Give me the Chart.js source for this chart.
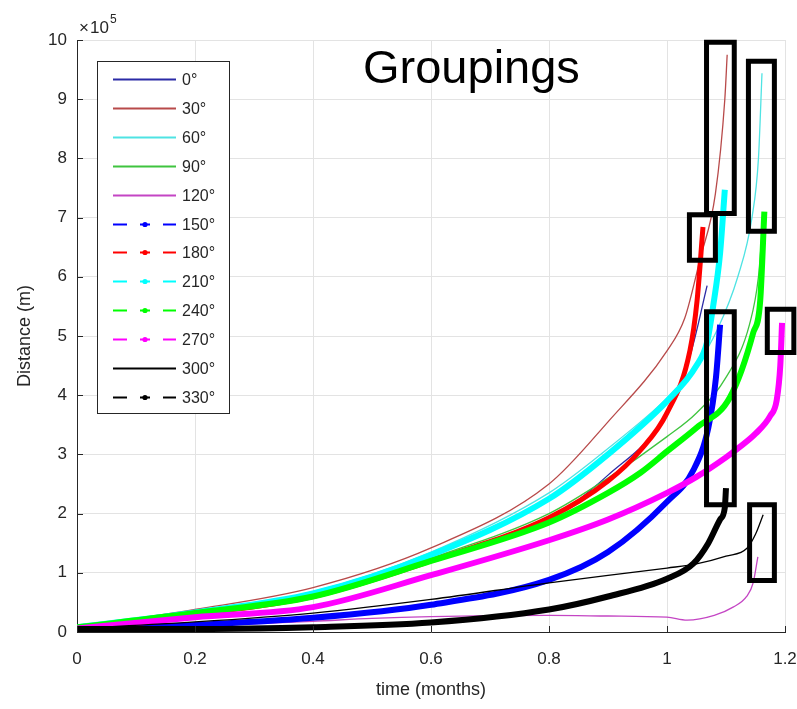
<!DOCTYPE html>
<html>
<head>
<meta charset="utf-8">
<title>Groupings</title>
<script src="https://cdn.jsdelivr.net/npm/chart.js@4.4.1/dist/chart.umd.min.js"></script>
<style>
  html, body { margin: 0; padding: 0; background: #fff; }
  #wrap { width: 797px; height: 709px; }
</style>
</head>
<body>
<div id="wrap"><canvas id="myChart" width="797" height="709"></canvas></div>
<script>
// Data (distance in units of 10^5 m, time in months)
const angleLabels = ["0°", "30°", "60°", "90°", "120°", "150°", "180°", "210°", "240°", "270°", "300°", "330°"];

const t0 = [0, 0.2, 0.4, 0.6, 0.8, 0.9, 1.0, 1.04, 1.068];
const d0 = [0.08, 0.3, 0.6, 1.2, 1.9, 2.65, 3.7, 4.7, 5.85];

const t30 = [0, 0.2, 0.4, 0.6, 0.8, 0.9, 1.0, 1.03, 1.056, 1.082, 1.098, 1.102];
const d30 = [0.08, 0.38, 0.75, 1.42, 2.5, 3.55, 4.75, 5.3, 6.3, 7.4, 9.0, 9.75];

const t60 = [0, 0.2, 0.4, 0.6, 0.8, 0.9, 1.0, 1.05, 1.085, 1.12, 1.144, 1.155, 1.161];
const d60 = [0.08, 0.34, 0.68, 1.35, 2.35, 3.1, 3.95, 4.5, 5.1, 6.0, 7.0, 8.0, 9.44];

const t90 = [0, 0.2, 0.4, 0.6, 0.8, 0.9, 1.0, 1.05, 1.1, 1.14, 1.155, 1.163];
const d90 = [0.08, 0.32, 0.62, 1.25, 2.0, 2.6, 3.3, 3.7, 4.3, 5.2, 6.0, 7.0];

const t120 = [0, 0.2, 0.4, 0.5, 0.6, 0.8, 0.9, 1.0, 1.034, 1.08, 1.112, 1.135, 1.146, 1.154];
const d120 = [0.05, 0.1, 0.18, 0.23, 0.26, 0.28, 0.27, 0.25, 0.2, 0.28, 0.42, 0.6, 0.83, 1.27];

const t150 = [0, 0.2, 0.4, 0.6, 0.8, 0.9, 1.0, 1.045, 1.07, 1.083, 1.09];
const d150 = [0.05, 0.12, 0.24, 0.46, 0.88, 1.35, 2.2, 2.74, 3.45, 4.3, 5.19];

const t180 = [0, 0.2, 0.4, 0.6, 0.8, 0.9, 0.955, 1.0, 1.039, 1.051, 1.061];
const d180 = [0.08, 0.3, 0.6, 1.2, 1.93, 2.55, 3.07, 3.7, 4.76, 5.6, 6.84];

const t210 = [0, 0.2, 0.4, 0.6, 0.8, 0.9, 1.0, 1.05, 1.068, 1.078, 1.09, 1.098];
const d210 = [0.08, 0.33, 0.65, 1.3, 2.25, 3.0, 3.9, 4.5, 4.9, 5.49, 6.4, 7.47];

const t240 = [0, 0.2, 0.4, 0.6, 0.8, 0.9, 0.955, 1.0, 1.05, 1.107, 1.146, 1.158, 1.165];
const d240 = [0.08, 0.32, 0.6, 1.2, 1.85, 2.35, 2.69, 3.05, 3.45, 3.97, 5.05, 5.6, 7.1];

const t270 = [0, 0.2, 0.4, 0.6, 0.8, 0.9, 1.0, 1.05, 1.1, 1.124, 1.15, 1.175, 1.186, 1.192, 1.195];
const d270 = [0.06, 0.25, 0.42, 0.96, 1.55, 1.9, 2.35, 2.62, 2.95, 3.13, 3.35, 3.65, 3.92, 4.5, 5.22];

const t300 = [0, 0.2, 0.4, 0.6, 0.8, 1.0, 1.05, 1.1, 1.136, 1.15, 1.163];
const d300 = [0.06, 0.17, 0.32, 0.55, 0.83, 1.08, 1.15, 1.28, 1.42, 1.65, 1.98];

const t330 = [0, 0.2, 0.4, 0.6, 0.8, 0.9, 1.0, 1.045, 1.07, 1.09, 1.098, 1.1];
const d330 = [0.05, 0.05, 0.08, 0.16, 0.38, 0.6, 0.9, 1.16, 1.5, 1.9, 2.1, 2.43];

// highlight boxes (data units)
const boxX0 = [1.067, 1.138, 1.038, 1.067, 1.170, 1.140];
const boxX1 = [1.114, 1.182, 1.082, 1.114, 1.215, 1.182];
const boxY0 = [7.07, 6.77, 6.28, 2.15, 4.72, 0.87];
const boxY1 = [9.96, 9.64, 7.05, 5.41, 5.45, 2.15];

const xTicks = [0, 0.2, 0.4, 0.6, 0.8, 1, 1.2];
const xTickLabels = ["0", "0.2", "0.4", "0.6", "0.8", "1", "1.2"];
const yTicks = [0, 1, 2, 3, 4, 5, 6, 7, 8, 9, 10];
const yTickLabels = ["0", "1", "2", "3", "4", "5", "6", "7", "8", "9", "10"];

const titleText = "Groupings";
const xTitle = "time (months)";
const yTitle = "Distance (m)";

// Styles
const FONT = '"Liberation Sans", Arial, Helvetica, sans-serif';
const TXT = "#262626";
const seriesT = [t0, t30, t60, t90, t120, t150, t180, t210, t240, t270, t300, t330];
const seriesD = [d0, d30, d60, d90, d120, d150, d180, d210, d240, d270, d300, d330];
const lineColors = ["#2b2ba6", "#b84a4a", "#4fe3e3", "#3fc43f", "#c445c4",
                    "#0000ff", "#ff0000", "#00ffff", "#00ff00", "#ff00ff", "#000000", "#000000"];
const lineWidths = [1.3, 1.3, 1.3, 1.3, 1.3, 6, 5, 6, 6, 6, 1.3, 6];
const dashedLegend = [false, false, false, false, false, true, true, true, true, true, false, true];

let datasets = angleLabels.map((lab, i) => ({
  label: lab,
  data: seriesT[i].map((t, k) => ({ x: t, y: seriesD[i][k] })),
  borderColor: lineColors[i],
  backgroundColor: lineColors[i],
  borderWidth: lineWidths[i],
  pointRadius: 0,
  cubicInterpolationMode: "monotone",
  fill: false,
  order: 30 - i,
  legendDashed: dashedLegend[i],
  isSeries: true,
}));

boxX0.forEach((x0, i) => {
  datasets.push({
    label: "box" + i,
    data: [
      { x: x0, y: boxY0[i] }, { x: boxX1[i], y: boxY0[i] },
      { x: boxX1[i], y: boxY1[i] }, { x: x0, y: boxY1[i] }, { x: x0, y: boxY0[i] },
    ],
    borderColor: "#000",
    borderWidth: 5,
    pointRadius: 0,
    tension: 0,
    fill: false,
    clip: false,
    borderCapStyle: "square",
    borderJoinStyle: "miter",
    order: 0,
  });
});

// Legend box, title, exponent label and inward ticks
const overlay = {
  id: "overlay",
  afterDraw(chart) {
    const { ctx, chartArea: a, scales: { x, y } } = chart;
    ctx.save();

    // inward ticks, MATLAB style
    ctx.strokeStyle = TXT;
    ctx.lineWidth = 1;
    xTicks.forEach((v) => {
      const px = Math.round(x.getPixelForValue(v)) + 0.5;
      ctx.beginPath(); ctx.moveTo(px, a.bottom); ctx.lineTo(px, a.bottom - 6); ctx.stroke();
    });
    yTicks.forEach((v) => {
      const py = Math.round(y.getPixelForValue(v)) + 0.5;
      ctx.beginPath(); ctx.moveTo(a.left, py); ctx.lineTo(a.left + 6, py); ctx.stroke();
    });

    // x10^5
    ctx.fillStyle = TXT;
    ctx.textAlign = "left";
    ctx.textBaseline = "alphabetic";
    ctx.font = "17px " + FONT;
    ctx.fillText("×", 79, 33);
    ctx.fillText("10", 90, 33);
    ctx.font = "12px " + FONT;
    ctx.fillText("5", 110, 23);

    // title inside plot
    ctx.fillStyle = "#000";
    ctx.font = "47px " + FONT;
    ctx.fillText(titleText, 363, 83);

    // legend
    const lx = 97, ly = 61, lw = 132, lh = 352;
    ctx.fillStyle = "#fff";
    ctx.fillRect(lx, ly, lw, lh);
    ctx.strokeStyle = "#262626";
    ctx.lineWidth = 1;
    ctx.strokeRect(lx + 0.5, ly + 0.5, lw, lh);
    const series = chart.data.datasets.filter((d) => d.isSeries);
    series.forEach((d, i) => {
      const ry = Math.round(79 + i * 28.9) + 0.5;
      ctx.strokeStyle = d.borderColor;
      ctx.fillStyle = d.borderColor;
      ctx.lineWidth = 2;
      if (d.legendDashed) {
        [[113, 127], [140, 150], [163, 176]].forEach(([s, e]) => {
          ctx.beginPath(); ctx.moveTo(s, ry); ctx.lineTo(e, ry); ctx.stroke();
        });
        ctx.beginPath(); ctx.arc(145, ry, 2.6, 0, Math.PI * 2); ctx.fill();
      } else {
        ctx.beginPath(); ctx.moveTo(113, ry); ctx.lineTo(176, ry); ctx.stroke();
      }
      ctx.fillStyle = TXT;
      ctx.font = "16px " + FONT;
      ctx.textBaseline = "middle";
      ctx.fillText(d.label, 182, ry + 1);
    });
    ctx.restore();
  },
};

var chartdata = document.getElementById("myChart");
var myChart = new Chart(chartdata, {
  type: "line",
  data: { datasets: datasets },
  plugins: [overlay],
  options: {
    responsive: false,
    animation: false,
    devicePixelRatio: 1,
    layout: { padding: { top: 40, right: 12, left: 0, bottom: 0 } },
    plugins: { legend: { display: false }, tooltip: { enabled: false } },
    scales: {
      x: {
        type: "linear",
        min: 0,
        max: 1.2,
        afterFit: (s) => { s.height = 77; s.paddingLeft = 0; s.paddingRight = 0; },
        afterBuildTicks: (s) => { s.ticks = xTicks.map((v) => ({ value: v })); },
        grid: { color: "#e3e3e3", drawTicks: false },
        border: { display: true, color: TXT, width: 1 },
        ticks: {
          padding: 17,
          color: TXT,
          font: { family: FONT, size: 17 },
          maxRotation: 0,
          autoSkip: false,
          callback: (v, i) => xTickLabels[i],
        },
        title: {
          display: true,
          text: xTitle,
          color: TXT,
          font: { family: FONT, size: 18 },
          padding: { top: 0, bottom: 8 },
        },
      },
      y: {
        type: "linear",
        min: 0,
        max: 10,
        afterFit: (s) => { s.width = 77; },
        afterBuildTicks: (s) => { s.ticks = yTicks.map((v) => ({ value: v })); },
        grid: { color: "#e3e3e3", drawTicks: false },
        border: { display: true, color: TXT, width: 1 },
        ticks: {
          padding: 10,
          color: TXT,
          font: { family: FONT, size: 17 },
          autoSkip: false,
          callback: (v, i) => yTickLabels[i],
        },
        title: {
          display: true,
          text: yTitle,
          color: TXT,
          font: { family: FONT, size: 18 },
          padding: { top: 14, bottom: 0 },
        },
      },
    },
  },
});
</script>
</body>
</html>
